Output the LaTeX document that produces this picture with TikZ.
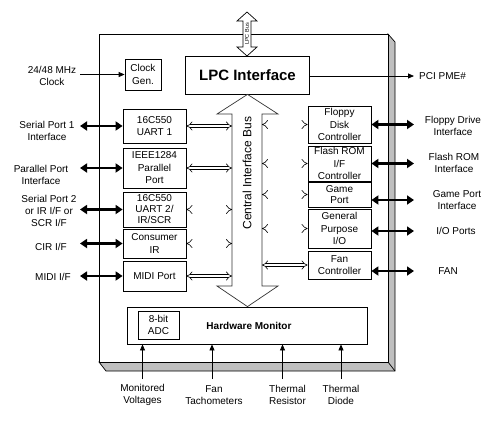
\documentclass[tikz,border=0pt]{standalone}
\usepackage{fontspec}
\setmainfont{Liberation Sans}
\usetikzlibrary{arrows.meta,calc}

\begin{document}
\begin{tikzpicture}[
  x=1pt, y=-1pt,
  font=\fontsize{10}{12}\selectfont,
  blk/.style={rectangle, draw, line width=0.8pt, fill=white, align=center,
              inner sep=0pt, minimum width=63pt, font=\fontsize{10}{12.5}\selectfont},
  lbl/.style={align=center, inner sep=1pt},
  outl/.style={draw, line width=0.7pt, fill=white},
  ext/.style={{Triangle[length=7pt,width=9pt]}-{Triangle[length=7pt,width=9pt]}, line width=2.6pt},
  sig/.style={-{Triangle[length=6pt,width=5pt]}, line width=0.8pt},
  busln/.style={{Implies}-{Implies}, double, double distance=2.6pt, line width=0.6pt},
]
\useasboundingbox (0,0) rectangle (501,429);

% chip body and its shadow
\filldraw[fill=black!25, line width=0.7pt] (388,34) -- (395,42) -- (395,371) -- (106,371)
  -- (99,362) -- (388,362) -- cycle;
\draw[line width=0.7pt] (388,362) -- (395,371);
\draw[fill=white, line width=0.8pt] (99,34) rectangle (388,362);

% lpc bus
\draw[outl] (247,12) -- (257,21) -- (251,21) -- (251,47) -- (257,47) -- (247,56)
  -- (237,47) -- (243,47) -- (243,21) -- (237,21) -- cycle;
\node[rotate=90, font=\fontsize{5.5}{6}\selectfont, inner sep=0pt] (lpcbus) at (247,34) {LPC Bus};

% top row
\node[blk, minimum width=36pt, minimum height=31pt] (clock) at (143,74.5) {Clock\\Gen.};
\node[blk, minimum width=124pt, minimum height=38pt,
      font=\fontsize{15}{18}\selectfont\bfseries] (lpc) at (247.5,75) {LPC Interface};

% hardware monitor
\node[blk, minimum width=240pt, minimum height=37pt] (hwm) at (247.5,325.5) {};
\node[font=\fontsize{10}{12}\selectfont\bfseries] (hwmtxt) at (249,326) {Hardware Monitor};
\node[blk, minimum width=41pt, minimum height=28pt] (adc) at (158.5,325) {8-bit\\ADC};

% central interface bus
\draw[outl, draw=black!80] (lpc.south) -- (278,114) -- (262,114) -- (262,286) -- (278,286)
  -- (hwm.north) -- (217,286) -- (232,286) -- (232,114) -- (217,114) -- cycle;
\node[rotate=90, font=\fontsize{12}{14}\selectfont] (cib) at (247,173) {Central Interface Bus};
\coordinate (busL) at (232,0);
\coordinate (busR) at (262,0);

% left blocks
\node[blk, minimum height=34pt] (uart1) at (154.5,126)   {16C550\\UART 1};
\node[blk, minimum height=40pt] (ieee)  at (154.5,168)   {IEEE1284\\Parallel\\Port};
\node[blk, minimum height=35pt, font=\fontsize{10}{11}\selectfont]
                                (uart2) at (154.5,209.5) {16C550\\UART 2/\\IR/SCR};
\node[blk, minimum height=29pt] (cir)   at (154.5,243.5) {Consumer\\IR};
\node[blk, minimum height=30pt] (midi)  at (154.5,276)   {MIDI Port};

% right blocks
\node[blk, minimum height=37pt] (fdc)   at (339.5,124.5) {Floppy\\Disk\\Controller};
\node[blk, minimum height=35pt] (flash) at (339.5,163.5) {Flash ROM\\I/F\\Controller};
\node[blk, minimum height=25pt, font=\fontsize{10}{11.5}\selectfont]
                                (game)  at (339.5,194.5) {Game\\Port};
\node[blk, minimum height=39pt] (gpio)  at (339.5,228.5) {General\\Purpose\\I/O};
\node[blk, minimum height=28pt] (fan)   at (339.5,265)   {Fan\\Controller};

\foreach \b in {uart1,ieee,uart2,cir,midi}
  \draw[busln] (\b.east) -- (\b.east -| busL);
\foreach \b in {fdc,flash,game,gpio,fan}
  \draw[busln] (\b.west) -- (\b.west -| busR);

% left side signals
\coordinate (lx) at (80,0);
\node[lbl] (clkl)  at (52,76)   {24/48 MHz\\Clock};
\node[lbl] (sp1l)  at (47,131)  {Serial Port 1\\Interface};
\node[lbl] (ppl)   at (41,175)  {Parallel Port\\Interface};
\node[lbl] (sp2l)  at (49,211)  {Serial Port 2\\or IR I/F or\\SCR I/F};
\node[lbl] (cirl)  at (51,247)  {CIR I/F};
\node[lbl] (midil) at (53,277)  {MIDI I/F};

\draw[sig] (clock.west -| lx) -- (clock.west);
\foreach \b in {uart1,ieee,uart2,cir,midi}
  \draw[ext] (\b.west -| lx) -- (\b.west);

% right side signals
\coordinate (rx) at (414,0);
\node[lbl, anchor=west] (pme) at (418,76) {PCI PME\#};
\node[lbl] (fddl)   at (453,126) {Floppy Drive\\Interface};
\node[lbl] (flashl) at (454,163) {Flash ROM\\Interface};
\node[lbl] (gamel)  at (457,200) {Game Port\\Interface};
\node[lbl] (iol)    at (456,231) {I/O Ports};
\node[lbl] (fanl)   at (448,271) {FAN};

\draw[sig] (lpc.east |- pme) -- (pme -| rx);
\draw[ext] (fdc.east |- fdc)      -- (fdc -| rx);
\draw[ext] (flash.east |- flash)  -- (flash -| rx);
\draw[ext] (game.east |- gamel)   -- (gamel -| rx);
\draw[ext] (gpio.east |- iol)     -- (iol -| rx);
\draw[ext] (fan.east |- fanl)     -- (fanl -| rx);

% monitor inputs
\node[lbl] (vltl) at (142.5,395) {Monitored\\Voltages};
\node[lbl] (tchl) at (214,395)   {Fan\\Tachometers};
\node[lbl] (thrl) at (287.5,395) {Thermal\\Resistor};
\node[lbl] (thdl) at (341,395)   {Thermal\\Diode};
\coordinate (by) at (0,379);

\draw[sig] (vltl |- by) -- (vltl |- hwm.south);
\draw[sig] ([xshift=-2pt]tchl |- by) -- ([xshift=-2pt]tchl |- hwm.south);
\draw[sig] ([xshift=-5pt]thrl |- by) -- ([xshift=-5pt]thrl |- hwm.south);
\draw[sig] (thdl |- by) -- (thdl |- hwm.south);

\end{tikzpicture}
\end{document}
